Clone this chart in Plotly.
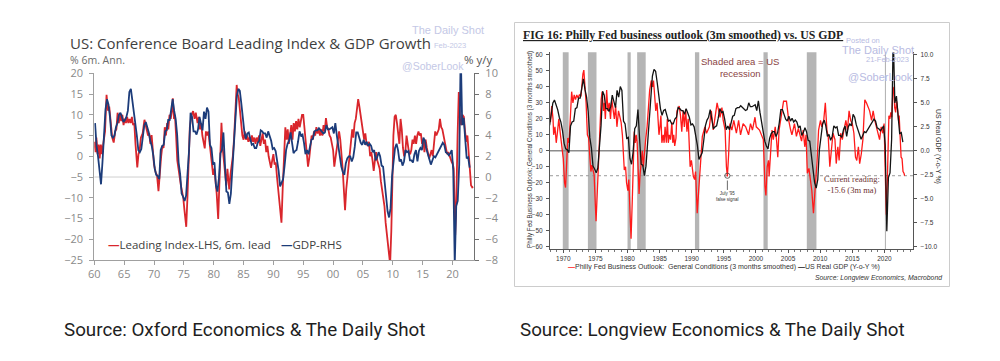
import plotly.graph_objects as go

W, H = 1000, 361


def fx(p):
    return p / W


def fy(p):
    return 1 - p / H


# ---------------- DATA ----------------
# US real GDP, % y/y, quarterly from 1960Q1 (used in both charts)
gdp_first_year = 1960
gdp_yoy = [
    5.2, 3.0, 2.0, 0.8, -0.7, 1.5, 3.5, 6.5, 7.5, 7.0, 5.8, 4.0, 3.8, 4.0, 4.8, 5.2,
    6.0, 6.2, 5.8, 5.3, 5.5, 5.8, 6.4, 8.2, 8.5, 7.4, 6.6, 5.5, 4.0, 2.6, 2.4, 2.7,
    3.8, 5.0, 5.3, 4.9, 4.3, 3.5, 3.0, 2.1, 0.8, 0.2, 0.1, -0.2, 2.6, 3.0, 3.1, 4.4,
    4.5, 5.5, 5.5, 6.5, 7.5, 6.4, 5.6, 4.1, 1.4, 0.3, -1.6, -1.9, -2.3, -1.8, 0.3, 2.6,
    6.2, 5.8, 4.4, 4.4, 4.1, 4.6, 5.8, 5.0, 4.5, 6.3, 5.6, 6.7, 6.3, 3.1, 2.8, 1.3,
    1.4, -0.8, -1.4, -0.1, 2.3, 2.6, 4.3, 1.3, -1.4, -1.5, -2.6, -1.6, 0.9, 3.5, 5.5, 7.8,
    8.5, 8.3, 7.1, 5.6, 4.4, 3.7, 4.2, 4.3, 3.8, 3.1, 3.2, 2.8, 2.8, 3.3, 3.5, 4.5,
    4.4, 4.2, 4.2, 3.8, 4.4, 3.9, 3.5, 2.7, 2.8, 2.5, 1.5, 0.6, -0.9, -0.6, -0.2, 1.1,
    2.6, 3.2, 3.5, 4.3, 3.2, 2.3, 2.5, 2.6, 3.4, 4.4, 4.0, 4.1, 3.3, 2.2, 2.6, 2.2,
    2.9, 3.6, 3.7, 4.4, 4.5, 4.5, 4.7, 4.5, 4.4, 4.2, 4.3, 5.0, 4.6, 4.6, 4.7, 4.8,
    4.2, 5.2, 4.0, 3.0, 2.3, 1.0, 0.5, 0.2, 1.3, 1.8, 2.0, 2.0, 1.5, 1.9, 2.9, 4.3,
    4.3, 3.8, 3.3, 3.1, 3.6, 3.1, 3.4, 3.0, 3.2, 3.0, 2.4, 2.6, 1.6, 1.9, 2.4, 2.0,
    1.1, 1.0, -0.5, -2.5, -3.3, -3.9, -3.0, 0.1, 1.7, 2.8, 3.2, 2.6, 1.5, 1.7, 1.1, 1.5,
    2.6, 2.4, 2.5, 1.6, 1.6, 1.4, 2.2, 2.6, 1.5, 2.5, 2.8, 2.6, 3.8, 3.5, 2.7, 2.2,
    1.6, 1.2, 1.6, 2.0, 1.9, 2.2, 2.5, 2.8, 3.0, 3.3, 3.1, 2.4, 2.3, 2.1, 2.3, 2.6,
    0.6, -8.4, -2.8, -2.3, 1.2, 12.2, 5.0, 5.7, 3.7, 1.8, 1.9, 0.9,
]
gdp_x = [gdp_first_year + 0.125 + 0.25 * i for i in range(len(gdp_yoy))]

# Conference Board Leading Index, % 6m annualised, 6m lead (turning points)
lei_year = [
    1960.0, 1960.2, 1960.35, 1960.55, 1960.75, 1960.9, 1961.1, 1961.3, 1961.5, 1961.8,
    1962.05, 1962.3, 1962.5, 1962.8, 1963.0, 1963.25, 1963.5, 1963.7, 1963.9, 1964.1,
    1964.3, 1964.5, 1964.7, 1964.9, 1965.1, 1965.3, 1965.5, 1965.7, 1965.9, 1966.1,
    1966.3, 1966.5, 1966.7, 1966.9, 1967.2, 1967.4, 1967.6, 1967.8, 1968.1, 1968.4,
    1968.6, 1968.8, 1969.0, 1969.2, 1969.4, 1969.6, 1969.8, 1970.0, 1970.3, 1970.5,
    1970.75, 1971.0, 1971.2, 1971.4, 1971.6, 1971.8, 1972.0, 1972.2, 1972.4, 1972.6,
    1972.8, 1973.0, 1973.15, 1973.35, 1973.5, 1973.7, 1973.9, 1974.1, 1974.3, 1974.5,
    1974.7, 1974.9, 1975.1, 1975.4, 1975.6, 1975.8, 1976.0, 1976.3, 1976.55, 1976.8,
    1977.0, 1977.3, 1977.5, 1977.7, 1977.9, 1978.1, 1978.3, 1978.5, 1978.7, 1978.9,
    1979.1, 1979.3, 1979.5, 1979.7, 1979.9, 1980.1, 1980.3, 1980.5, 1980.75, 1980.95,
    1981.1, 1981.3, 1981.5, 1981.7, 1981.9, 1982.1, 1982.3, 1982.45, 1982.6, 1982.8,
    1983.0, 1983.2, 1983.4, 1983.6, 1983.85, 1984.0, 1984.2, 1984.4, 1984.6, 1984.8,
    1985.0, 1985.2, 1985.4, 1985.6, 1985.8, 1986.0, 1986.2, 1986.4, 1986.6, 1986.8,
    1987.0, 1987.2, 1987.4, 1987.6, 1987.8, 1988.0, 1988.2, 1988.4, 1988.6, 1988.8,
    1989.0, 1989.2, 1989.4, 1989.6, 1989.8, 1990.0, 1990.2, 1990.4, 1990.6, 1990.9,
    1991.1, 1991.35, 1991.55, 1991.75, 1992.0, 1992.2, 1992.4, 1992.6, 1992.8, 1993.0,
    1993.2, 1993.4, 1993.6, 1993.8, 1994.0, 1994.2, 1994.4, 1994.6, 1994.8, 1995.0,
    1995.2, 1995.4, 1995.6, 1995.8, 1996.0, 1996.2, 1996.4, 1996.6, 1996.8, 1997.0,
    1997.2, 1997.4, 1997.6, 1997.8, 1998.0, 1998.2, 1998.4, 1998.6, 1998.8, 1999.0,
    1999.2, 1999.4, 1999.6, 1999.8, 2000.0, 2000.2, 2000.4, 2000.6, 2000.8, 2001.0,
    2001.2, 2001.4, 2001.6, 2001.8, 2002.0, 2002.2, 2002.4, 2002.6, 2002.8, 2003.0,
    2003.2, 2003.4, 2003.6, 2003.8, 2004.0, 2004.2, 2004.4, 2004.6, 2004.8, 2005.0,
    2005.2, 2005.4, 2005.6, 2005.8, 2006.0, 2006.2, 2006.4, 2006.6, 2006.8, 2007.0,
    2007.2, 2007.4, 2007.6, 2007.8, 2008.0, 2008.2, 2008.4, 2008.6, 2008.8, 2009.0,
    2009.2, 2009.4, 2009.55, 2009.75, 2009.95, 2010.1, 2010.3, 2010.5, 2010.7, 2010.9,
    2011.1, 2011.3, 2011.5, 2011.7, 2011.9, 2012.1, 2012.3, 2012.5, 2012.7, 2012.9,
    2013.1, 2013.3, 2013.5, 2013.7, 2013.9, 2014.1, 2014.3, 2014.5, 2014.7, 2014.9,
    2015.1, 2015.3, 2015.5, 2015.7, 2015.9, 2016.1, 2016.3, 2016.5, 2016.7, 2016.9,
    2017.1, 2017.3, 2017.5, 2017.7, 2017.9, 2018.1, 2018.3, 2018.5, 2018.7, 2018.9,
    2019.1, 2019.3, 2019.5, 2019.7, 2019.9, 2020.0, 2020.2, 2020.45, 2020.65, 2020.85,
    2021.05, 2021.25, 2021.45, 2021.65, 2021.9, 2022.1, 2022.3, 2022.5, 2022.7, 2022.9,
    2023.1, 2023.3, 2023.45,
]
lei_val = [
    3.5, 1.0, 4.5, 0.5, 2.8, -0.5, 2.8, 0.5, 3.0, 6.0,
    14.8, 11.0, 12.0, 7.0, 4.5, 3.3, 6.0, 6.5, 10.5, 8.0,
    10.3, 8.5, 10.0, 7.5, 9.0, 8.0, 9.5, 8.0, 9.0, 8.0,
    9.5, 7.5, 8.0, 3.0, -2.7, 0.5, 1.5, 4.5, 5.5, 8.8,
    7.5, 6.5, 5.0, 5.5, 3.0, 5.1, 1.0, -2.0, -4.0, -4.5,
    -8.4, -3.0, 0.0, 2.5, 2.0, 7.0, 5.0, 8.0, 6.5, 10.0,
    9.0, 11.0, 14.0, 9.0, 10.0, 5.0, -1.0, -3.0, -5.5, -7.0,
    -8.5, -10.0, -13.0, -17.0, -10.0, -1.0, 7.0, 10.0, 10.9, 9.0,
    10.5, 8.0, 9.5, 6.5, 8.0, 5.0, 3.0, 1.9, 6.0, 5.0,
    6.0, 3.0, 0.0, -2.0, -4.5, -3.0, -6.0, -9.0, -15.1, -6.0,
    2.0, 8.1, 2.0, -1.0, -4.0, -7.0, -3.0, -5.0, -8.0, -4.5,
    -2.5, 0.0, 4.0, 10.0, 17.2, 15.0, 14.0, 11.0, 8.0, 5.0,
    4.0, 6.0, 4.0, 5.0, 3.5, 4.5, 3.5, 5.0, 3.5, 4.5,
    3.0, 4.5, 3.5, 5.0, 2.5, 4.0, 5.5, 3.0, 4.0, 1.0,
    2.5, 0.0, -1.5, -2.8, -1.0, 0.5, -2.0, -1.5, -5.0, -10.0,
    -12.0, -16.0, -8.0, 0.0, 7.0, 4.0, 6.5, 3.0, 5.0, 7.5,
    4.0, 8.0, 6.0, 8.5, 6.5, 9.0, 7.0, 8.5, 10.0, 10.0,
    7.0, 5.0, 1.0, -2.5, -0.5, 2.5, 5.0, 4.0, 6.0, 5.0,
    7.0, 5.5, 6.5, 5.0, 6.5, 5.0, 7.5, 6.0, 9.2, 7.0,
    6.5, 5.0, 4.5, 3.0, 1.5, -2.5, 0.0, 2.0, 5.0, 6.0,
    4.0, 1.0, -3.0, -8.0, -13.0, -8.0, -5.0, -3.0, 0.0, 3.0,
    6.5, 4.5, 8.0, 9.0, 12.0, 13.8, 12.0, 10.0, 8.0, 6.0,
    4.0, 5.5, 3.0, 2.5, 3.5, 0.0, 1.0, -1.0, -3.5, -1.0,
    1.0, -1.0, -2.0, -3.0, -6.0, -8.0, -10.0, -12.0, -16.0, -19.0,
    -21.0, -25.0, -26.0, -18.0, -5.0, 5.0, 9.5, 10.0, 8.0, 5.0,
    3.0, 9.0, 6.5, 2.0, 0.0, 1.0, 5.0, 3.0, 1.0, 0.5,
    1.5, 4.0, 3.0, 5.0, 3.0, 5.0, 6.0, 5.0, 5.5, 3.0,
    4.0, 1.0, 4.0, 2.0, 0.5, -0.5, 0.5, 1.5, 0.0, 4.0,
    6.0, 5.0, 6.0, 6.5, 9.0, 7.0, 6.5, 5.0, 4.0, 2.0,
    0.5, 1.0, 0.0, -1.0, -1.5, -1.5, -3.0, -19.0, -10.0, 5.0,
    15.5, 9.0, 7.5, 10.0, 9.5, 6.0, 3.5, 5.0, 1.0, -4.5,
    -7.0, -7.5, -7.3,
]

# Philly Fed business outlook, general conditions, 3m smoothed
philly_year = [
    1968.0, 1968.2, 1968.4, 1968.5, 1968.7, 1968.9, 1969.1, 1969.3, 1969.5, 1969.7,
    1969.85, 1970.0, 1970.2, 1970.35, 1970.5, 1970.7, 1970.9, 1971.1, 1971.3, 1971.5,
    1971.7, 1971.9, 1972.1, 1972.3, 1972.5, 1972.75, 1972.95, 1973.05, 1973.2, 1973.35,
    1973.55, 1973.75, 1973.95, 1974.15, 1974.3, 1974.45, 1974.65, 1974.8, 1974.95, 1975.1,
    1975.25, 1975.4, 1975.55, 1975.75, 1975.9, 1976.05, 1976.25, 1976.4, 1976.55, 1976.75,
    1976.95, 1977.15, 1977.35, 1977.55, 1977.75, 1977.95, 1978.15, 1978.35, 1978.6, 1978.8,
    1979.0, 1979.2, 1979.3, 1979.5, 1979.7, 1979.85, 1980.05, 1980.2, 1980.4, 1980.55,
    1980.75, 1980.9, 1981.05, 1981.2, 1981.35, 1981.5, 1981.65, 1981.8, 1981.95, 1982.1,
    1982.3, 1982.45, 1982.65, 1982.85, 1983.05, 1983.25, 1983.45, 1983.7, 1983.9, 1984.05,
    1984.25, 1984.4, 1984.6, 1984.75, 1984.9, 1985.05, 1985.2, 1985.35, 1985.55, 1985.7,
    1985.85, 1986.05, 1986.2, 1986.35, 1986.5, 1986.7, 1986.9, 1987.05, 1987.2, 1987.35,
    1987.55, 1987.7, 1988.05, 1988.25, 1988.45, 1988.65, 1988.85, 1989.05, 1989.25, 1989.45,
    1989.6, 1989.75, 1989.95, 1990.25, 1990.45, 1990.6, 1990.85, 1991.25, 1991.65, 1992.05,
    1992.3, 1992.75, 1993.05, 1993.35, 1993.55, 1993.95, 1994.4, 1994.7, 1994.9, 1995.2,
    1995.4, 1995.55, 1995.75, 1995.95, 1996.25, 1996.55, 1996.95, 1997.3, 1997.6, 1998.0,
    1998.4, 1998.85, 1999.15, 1999.45, 1999.85, 2000.05, 2000.55, 2000.85, 2001.15, 2001.4,
    2001.55, 2001.75, 2001.95, 2002.05, 2002.3, 2002.5, 2002.7, 2003.0, 2003.2, 2003.4,
    2003.6, 2004.3, 2004.75, 2005.1, 2005.4, 2005.6, 2006.0, 2006.3, 2006.6, 2006.85,
    2007.1, 2007.35, 2007.6, 2007.8, 2008.0, 2008.25, 2008.5, 2008.7, 2008.95, 2009.15,
    2009.35, 2009.5, 2009.75, 2010.05, 2010.25, 2010.55, 2010.8, 2011.05, 2011.25, 2011.5,
    2011.7, 2012.0, 2012.3, 2012.5, 2012.75, 2012.95, 2013.2, 2013.45, 2013.7, 2014.0,
    2014.25, 2014.5, 2014.75, 2015.0, 2015.25, 2015.5, 2015.7, 2015.95, 2016.15, 2016.4,
    2016.65, 2016.95, 2017.2, 2017.45, 2017.7, 2018.0, 2018.25, 2018.5, 2018.75, 2019.0,
    2019.25, 2019.5, 2019.75, 2019.95, 2020.1, 2020.3, 2020.45, 2020.6, 2020.7, 2020.85,
    2021.0, 2021.15, 2021.25, 2021.35, 2021.5, 2021.6, 2021.75, 2021.9, 2022.05, 2022.2,
    2022.3, 2022.4, 2022.5, 2022.6, 2022.75, 2022.9, 2023.05, 2023.15,
]
philly_val = [
    18, 28, 20, 10, 15, 5, 12, 20, 12, 5,
    2, -5, -20, -23, -10, 8, 5, 20, 37, 30,
    35, 32, 35, 33, 35, 34, 45, 48, 50.5, 42,
    30, 10, 8, -5, -13, -9, -12, -15, -30, -44,
    -30, -15, 0, 20, 32, 37, 25, 30, 20, 38,
    25, 30, 20, 32, 25, 20, 28, 15, 25, 22,
    18, 10, 0, -12, -10, -20, -25, -18, -40, -55,
    -30, -5, 12, 5, 10, 5, -10, -27, -15, -8,
    0, -10, 2, 8, 15, 25, 38, 44, 40, 44,
    35, 25, 30, 20, 10, 15, 22, 5, 10, 5,
    15, 5, 20, 5, 10, 7, 18, 5, 10, 3,
    8, 25, 28, 22, 12, 25, 15, 26, 12, 20,
    5, -10, -6, -16, -18, -13, -39, -16, 9, 15,
    11, 15, 25, 13, 19, 30, 21, 27, 19, 13,
    -10, -16, -2, 17, 13, 19, 11, 19, 10, 17,
    15, 10, 17, 13, 21, 15, 13, 10, 7, -22,
    -28, -10, -6, -16, 2.5, 13, 7, 15, 7, -4,
    13, 31, 31, 19, 13, 10, 17, 9, 14, 9,
    6, 13, 2.5, 10, -14, -11, -20, -25, -39, -30,
    -16, -8, 13, 19, 15, 19, 30, 13, 9, -10,
    -2, 11, 7, -8, 2.5, -6, 11, 7, 13, 19,
    13, 25, 19, 17, 11, -4, -6, 2.5, -8, -2,
    7, 32, 30, 28, 25, 19, 25, 19, 15, 11,
    7, 15, 11, 17, -5, -40, -20, 3, 22, 20,
    24, 21, 33, 40, 37, 27, 24, 31, 26, 19,
    22, 15, 5, -4, -5, -13, -14, -15.6,
]

# US recessions (shaded)
rec_start = [1969.92, 1973.83, 1980.0, 1981.5, 1990.5, 2001.17, 2007.92, 2020.08]
rec_end = [1970.83, 1975.17, 1980.5, 1982.83, 1991.17, 2001.83, 2009.42, 2020.25]

left_xticks = list(range(1960, 2021, 5))
left_xtext = [str(y)[2:] for y in left_xticks]
right_xticks = list(range(1970, 2021, 5))

current_reading = -15.6
false_signal_year = 1995.55

# ---------------- FIGURE ----------------
fig = go.Figure()

# Left chart
fig.add_trace(go.Scatter(x=lei_year, y=lei_val, mode="lines", xaxis="x", yaxis="y",
                         line=dict(color="#d9262c", width=1.8), name="Leading Index-LHS, 6m. lead"))
fig.add_trace(go.Scatter(x=gdp_x, y=gdp_yoy, mode="lines", xaxis="x", yaxis="y2",
                         line=dict(color="#1c3c7a", width=1.8), name="GDP-RHS"))

# Right chart
fig.add_trace(go.Scatter(x=philly_year, y=philly_val, mode="lines", xaxis="x3", yaxis="y3",
                         line=dict(color="#ff1a1a", width=1.3),
                         name="Philly Fed Business Outlook"))
fig.add_trace(go.Scatter(x=gdp_x, y=gdp_yoy, mode="lines", xaxis="x3", yaxis="y4",
                         line=dict(color="#141414", width=1.3), name="US Real GDP (Y-o-Y %)"))

lfont = dict(family="Open Sans", size=11, color="#8a8a8a")
rfont = dict(family="Liberation Sans", size=6.5, color="#333333")

fig.update_layout(
    width=W, height=H, margin=dict(l=0, r=0, t=0, b=0, autoexpand=False),
    paper_bgcolor="white", plot_bgcolor="rgba(0,0,0,0)", showlegend=False,
    xaxis=dict(domain=[fx(94.3), fx(474)], range=[1960, 2023.6], anchor="y",
               tickvals=left_xticks, ticktext=left_xtext, ticks="outside", ticklen=4,
               tickcolor="#a0a0a0", showline=True, linecolor="#a0a0a0", linewidth=1,
               showgrid=False, zeroline=False, tickfont=lfont, automargin=False),
    yaxis=dict(domain=[fy(260), fy(73.3)], range=[-25, 20], dtick=5, anchor="x",
               ticks="outside", ticklen=4, tickcolor="#a0a0a0", showline=True,
               linecolor="#a0a0a0", showgrid=False, zeroline=False, tickfont=lfont,
               ticklabelstandoff=4, automargin=False),
    yaxis2=dict(overlaying="y", side="right", anchor="x", range=[-8, 10], dtick=2,
                ticks="outside", ticklen=4, tickcolor="#707070", showline=True,
                linecolor="#707070", linewidth=1.3, showgrid=False, zeroline=False,
                tickfont=lfont, ticklabelstandoff=4, automargin=False),
    xaxis3=dict(domain=[fx(550), fx(913.3)], range=[1967.93, 2024.5], anchor="y3",
                tickvals=right_xticks, ticks="outside", ticklen=3, tickcolor="#555",
                showline=True, linecolor="#555", showgrid=False, zeroline=False,
                tickfont=rfont, automargin=False,
                minor=dict(dtick=1, ticks="outside", ticklen=2, tickcolor="#777")),
    yaxis3=dict(domain=[fy(249.3), fy(52.3)], range=[-61.65, 61.65], tickvals=list(range(-60, 61, 10)),
                anchor="x3", ticks="outside", ticklen=3, tickcolor="#555", showline=True,
                linecolor="#555", showgrid=False, zeroline=False, tickfont=rfont,
                ticklabelstandoff=2, automargin=False),
    yaxis4=dict(overlaying="y3", side="right", anchor="x3", range=[-10.275, 10.275],
                tickvals=[-10, -7.5, -5, -2.5, 0, 2.5, 5, 7.5, 10], tickformat=".1f",
                ticks="outside", ticklen=3, tickcolor="#555", showline=True, linecolor="#555",
                showgrid=False, zeroline=False, tickfont=rfont, ticklabelstandoff=2,
                automargin=False),
)

shapes = []
# left chart: RHS zero line
shapes.append(dict(type="line", xref="x domain", yref="y2", x0=0, x1=1, y0=0, y1=0,
                   line=dict(color="#cfcfcf", width=1), layer="below"))
# right chart: recession shading
for s, e in zip(rec_start, rec_end):
    shapes.append(dict(type="rect", xref="x3", yref="y3 domain", x0=s, x1=e, y0=0, y1=1,
                       fillcolor="#b5b5b5", line=dict(width=0), layer="below"))
shapes.append(dict(type="line", xref="x3 domain", yref="y3", x0=0, x1=1, y0=0, y1=0,
                   line=dict(color="#8c8c8c", width=1.5), layer="below"))
shapes.append(dict(type="line", xref="x3 domain", yref="y3", x0=0, x1=1,
                   y0=current_reading, y1=current_reading,
                   line=dict(color="#9a9a9a", width=1, dash="dot"), layer="below"))
# July '95 marker
shapes.append(dict(type="circle", xref="x3", yref="y3", xsizemode="pixel", ysizemode="pixel",
                   xanchor=false_signal_year, yanchor=current_reading, x0=-2.6, x1=2.6, y0=-2.6, y1=2.6,
                   line=dict(color="#444", width=0.8)))
shapes.append(dict(type="line", xref="x3", yref="y3", x0=false_signal_year, x1=false_signal_year,
                   y0=-18.6, y1=-24.5, line=dict(color="#444", width=0.8)))
# right panel frame
shapes.append(dict(type="rect", xref="paper", yref="paper", x0=fx(514.5), x1=fx(949.5),
                   y0=fy(286.5), y1=fy(22.5), line=dict(color="#cccccc", width=1)))
fig.update_layout(shapes=shapes)

anns = []


def ann(text, x, y, size, color, family, xanchor="left", yanchor="middle", angle=0, align="left"):
    anns.append(dict(text=text, x=fx(x), y=fy(y), xref="paper", yref="paper", showarrow=False,
                     xanchor=xanchor, yanchor=yanchor, textangle=angle, align=align,
                     font=dict(size=size, color=color, family=family)))


# ---- left chart texts ----
wm = "#c4c8e6"
ann("The Daily Shot", 448, 30.5, 11, wm, "Liberation Sans", xanchor="center")
ann("US: Conference Board Leading Index &amp; GDP Growth", 68, 43.5, 15.0, "#3f3f3f", "Open Sans")
ann("Feb-2023", 432, 45, 7.5, wm, "Liberation Sans")
ann("% 6m. Ann.", 68, 60, 10.5, "#6a6a6a", "Open Sans")
ann("@SoberLook", 433, 66, 10.5, wm, "Liberation Sans", xanchor="center")
ann("% y/y", 478, 60, 11.5, "#555555", "Open Sans", xanchor="center")
ann("<span style='color:#d9262c'><b>—</b></span>Leading Index-LHS, 6m. lead", 106, 245, 11.5,
    "#404040", "Open Sans")
ann("<span style='color:#1c3c7a'><b>—</b></span>GDP-RHS", 279, 245, 11.5, "#404040", "Open Sans")

# ---- right chart texts ----
ann("<b><span style='text-decoration:underline'>FIG 16: Philly Fed business outlook (3m smoothed) vs. US GDP</span></b>",
    520.5, 35, 11.8, "#222222", "Liberation Serif")
wm2 = "#b8bbe2"
ann("Posted on", 863, 40.7, 7.5, wm2, "Liberation Sans", xanchor="center")
ann("The Daily Shot", 916, 49.5, 11, wm2, "Liberation Sans", xanchor="right")
ann("21-Feb-2023", 887, 60, 7.5, wm2, "Liberation Sans", xanchor="center")
ann("@SoberLook", 915, 77, 11, wm2, "Liberation Sans", xanchor="right")
ann("Shaded area = US<br>recession", 740, 67, 9.5, "#8a4444", "Liberation Sans", xanchor="center",
    align="center")
ann("Current reading:<br>-15.6 (3m ma)", 852, 184, 8.5, "#6e3232", "Liberation Serif",
    xanchor="center", align="center")
ann("July '95<br>false signal", 727.5, 196, 4.5, "#333333", "Liberation Sans", xanchor="center",
    align="center")
ann("Philly Fed Business Outlook: General Conditions (3 months smoothed)", 530, 150, 6.3, "#333333",
    "Liberation Sans", xanchor="center", angle=-90)
ann("US Real GDP (Y-o-Y %)", 938.5, 146.5, 7, "#333333", "Liberation Sans", xanchor="center", angle=90)
ann("<span style='color:#ff1a1a'><b>—</b></span>Philly Fed Business Outlook:  General Conditions (3 months smoothed) "
    "<span style='color:#141414'><b>—</b></span>US Real GDP (Y-o-Y %)", 566, 267.3, 7, "#333333",
    "Liberation Sans")
ann("<i>Source: Longview Economics, Macrobond</i>", 943.5, 277.7, 6.8, "#333333", "Liberation Sans",
    xanchor="right")

# ---- captions ----
ann("Source: Oxford Economics &amp; The Daily Shot", 62, 330, 18.8, "#1e1e1e", "Roboto")
ann("Source: Longview Economics &amp; The Daily Shot", 518, 330, 18.8, "#1e1e1e", "Roboto")

fig.update_layout(annotations=anns)

fig.write_html(
    "out.html",
    config={"displayModeBar": False},
    post_script="document.body.style.margin='0';document.body.style.padding='0';"
                "document.body.style.overflow='hidden';",
)
